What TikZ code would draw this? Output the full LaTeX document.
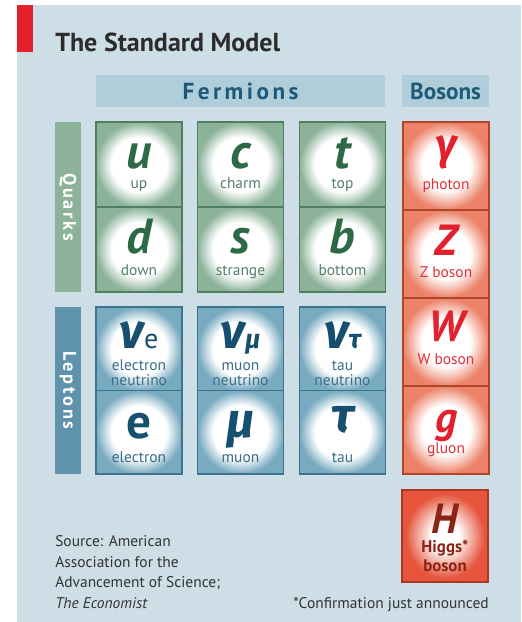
\documentclass[tikz,border=0pt]{standalone}
\usepackage{fontspec}
\setmainfont{PT Sans}
\newfontfamily\grk{Fira Sans}
\newfontfamily\spaced[LetterSpace=15]{PT Sans}

\definecolor{panel}{HTML}{CDDEE6}
\definecolor{band}{HTML}{B0CEDA}
\definecolor{bandtext}{HTML}{1D5A79}
\definecolor{ecored}{HTML}{E3202B}
\definecolor{titlegray}{HTML}{2B2B2B}
\definecolor{notegray}{HTML}{333333}
\definecolor{qbar}{HTML}{8DB29A}
\definecolor{qfill}{HTML}{8CB39A}
\definecolor{qline}{HTML}{4F7F60}
\definecolor{qtext}{HTML}{2C6A45}
\definecolor{qlabel}{HTML}{55806A}
\definecolor{lbar}{HTML}{5F93AC}
\definecolor{lfill}{HTML}{78AAC0}
\definecolor{lline}{HTML}{3A7590}
\definecolor{ltext}{HTML}{17506E}
\definecolor{llabel}{HTML}{3A6E88}
\definecolor{bfill}{HTML}{EC8268}
\definecolor{bline}{HTML}{B0452E}
\definecolor{btext}{HTML}{E3202E}
\definecolor{blabel}{HTML}{E3303A}
\definecolor{hfill}{HTML}{E6553C}
\definecolor{hline}{HTML}{A83A24}
\definecolor{htext}{HTML}{8A2416}

% glow in the middle of each cell
\pgfdeclareradialshading{qglow}{\pgfpointorigin}{color(0bp)=(white);color(16bp)=(white);color(25bp)=(qfill);color(50bp)=(qfill)}
\pgfdeclareradialshading{lglow}{\pgfpointorigin}{color(0bp)=(white);color(16bp)=(white);color(25bp)=(lfill);color(50bp)=(lfill)}
\pgfdeclareradialshading{bglow}{\pgfpointorigin}{color(0bp)=(white);color(14bp)=(white);color(25bp)=(bfill);color(50bp)=(bfill)}
\pgfdeclareradialshading{hglow}{\pgfpointorigin}{color(0bp)=(white);color(8bp)=(white);color(23bp)=(hfill);color(50bp)=(hfill)}

\tikzset{
  cell/.style={draw, line width=0.9pt, inner sep=0pt, minimum width=2.15cm},
  quark/.style={cell, draw=qline, shading=qglow, minimum height=2.125cm},
  lepton/.style={cell, draw=lline, shading=lglow, minimum height=2.09cm},
  boson/.style={cell, draw=bline, shading=bglow, minimum height=2.2cm},
  higgs/.style={cell, draw=hline, shading=hglow, minimum height=2.3cm},
  bigsym/.style={anchor=base, inner sep=0pt, font=\fontsize{35}{35}\selectfont\bfseries\itshape},
  smalllab/.style={anchor=base, inner sep=0pt, font=\fontsize{11}{11}\selectfont},
  qsym/.style={bigsym, text=qtext},
  qlab/.style={smalllab, text=qlabel},
  lsym/.style={bigsym, text=ltext},
  llab/.style={smalllab, text=llabel},
  bsym/.style={bigsym, text=btext, font=\fontsize{31}{31}\selectfont\bfseries\itshape},
  blab/.style={smalllab, text=blabel},
  bandbox/.style={fill=band, inner sep=0pt, minimum height=0.8cm, text=bandtext,
    font=\fontsize{16.5}{16.5}\selectfont\bfseries},
  catbar/.style={inner sep=0pt, rotate=-90, minimum height=0.65cm, text=white,
    font=\fontsize{13}{13}\selectfont\spaced\bfseries},
  note/.style={inner sep=0pt, text=notegray, font=\fontsize{11}{14.5}\selectfont}
}

\begin{document}
\begin{tikzpicture}[x=0.025cm, y=-0.025cm]
\useasboundingbox (0,0) rectangle (521,622);
\fill[panel] (17,5) rectangle (521,622);
\fill[ecored] (17,5) rectangle (33,52);
\node[anchor=base west, inner sep=0pt, text=titlegray, font=\fontsize{18.5}{18.5}\selectfont\bfseries] (title) at (55,52) {The Standard Model};

% headers
\node[bandbox, minimum width=7.225cm] (fermions) at (240.5,91) {\spaced Fermions};
\node[bandbox, minimum width=2.15cm] (bosons) at (445.5,91) {Bosons};
\node[catbar, fill=qbar, minimum width=4.25cm] (quarks) at (68,207) {Quarks};
\node[catbar, fill=lbar, minimum width=4.175cm] (leptons) at (68,390.5) {Leptons};

% quarks
\node[quark] (u) at (139,164.5) {};
\node[quark] (c) at (240.5,164.5) {};
\node[quark] (t) at (342.5,164.5) {};
\node[quark] (d) at (139,249.5) {};
\node[quark] (s) at (240.5,249.5) {};
\node[quark] (b) at (342.5,249.5) {};
\node[qsym] (u sym) at (139,169) {u};
\node[qlab] (u lab) at (139,189) {up};
\node[qsym] (c sym) at (240.5,169) {c};
\node[qlab] (c lab) at (240.5,189) {charm};
\node[qsym] (t sym) at (342.5,169) {t};
\node[qlab] (t lab) at (342.5,189) {top};
\node[qsym] (d sym) at (139,254) {d};
\node[qlab] (d lab) at (139,275) {down};
\node[qsym] (s sym) at (240.5,254) {s};
\node[qlab] (s lab) at (240.5,275) {strange};
\node[qsym] (b sym) at (342.5,254) {b};
\node[qlab] (b lab) at (342.5,275) {bottom};

% leptons
\node[lepton] (nue) at (139,348.75) {};
\node[lepton] (numu) at (240.5,348.75) {};
\node[lepton] (nutau) at (342.5,348.75) {};
\node[lepton] (e) at (139,432.25) {};
\node[lepton] (mu) at (240.5,432.25) {};
\node[lepton] (tau) at (342.5,432.25) {};
\node[lsym] (nue sym) at (139,348) {{\grk ν}{\upshape\mdseries\fontsize{20}{20}\selectfont e}};
\node[llab] (nue lab1) at (139,370) {electron};
\node[llab] (nue lab2) at (139,385) {neutrino};
\node[lsym] (numu sym) at (240.5,348) {{\grk ν}{\grk\fontsize{19}{19}\selectfont μ}};
\node[llab] (numu lab1) at (240.5,370) {muon};
\node[llab] (numu lab2) at (240.5,385) {neutrino};
\node[lsym] (nutau sym) at (342.5,348) {{\grk ν}{\grk\fontsize{19}{19}\selectfont τ}};
\node[llab] (nutau lab1) at (342.5,370) {tau};
\node[llab] (nutau lab2) at (342.5,385) {neutrino};
\node[lsym] (e sym) at (139,438) {\upshape e};
\node[llab] (e lab) at (139,462) {electron};
\node[lsym] (mu sym) at (240.5,437) {\grk μ};
\node[llab] (mu lab) at (240.5,462) {muon};
\node[lsym] (tau sym) at (342.5,432) {\grk τ};
\node[llab] (tau lab) at (342.5,462) {tau};

% bosons
\node[boson] (photon) at (446,166) {};
\node[boson] (zb) at (446,254) {};
\node[boson] (wb) at (446,342) {};
\node[boson] (gluon) at (446,430) {};
\node[bsym] (photon sym) at (446,160) {\grk γ};
\node[blab] (photon lab) at (446,190) {photon};
\node[bsym] (zb sym) at (446,256) {Z};
\node[blab] (zb lab) at (446,277) {Z boson};
\node[bsym] (wb sym) at (446,341) {W};
\node[blab] (wb lab) at (446,364) {W boson};
\node[bsym] (gluon sym) at (446,432) {g};
\node[blab] (gluon lab) at (446,453) {gluon};

% higgs
\node[higgs] (h) at (445,536) {};
\node[bigsym, text=htext, font=\fontsize{30}{30}\selectfont\bfseries\itshape] (h sym) at (445,533) {H};
\node[smalllab, text=htext, font=\fontsize{12}{12}\selectfont\bfseries] (h lab1) at (445,552) {Higgs*};
\node[smalllab, text=htext, font=\fontsize{12}{12}\selectfont\bfseries] (h lab2) at (445,571) {boson};

% notes
\node[note, anchor=base west, align=left] (source) at (55,608) {Source: American\\Association for the\\Advancement of Science;\\\textit{The Economist}};
\node[note, anchor=base east] (confirm) at (489,608) {*Confirmation just announced};
\end{tikzpicture}
\end{document}
